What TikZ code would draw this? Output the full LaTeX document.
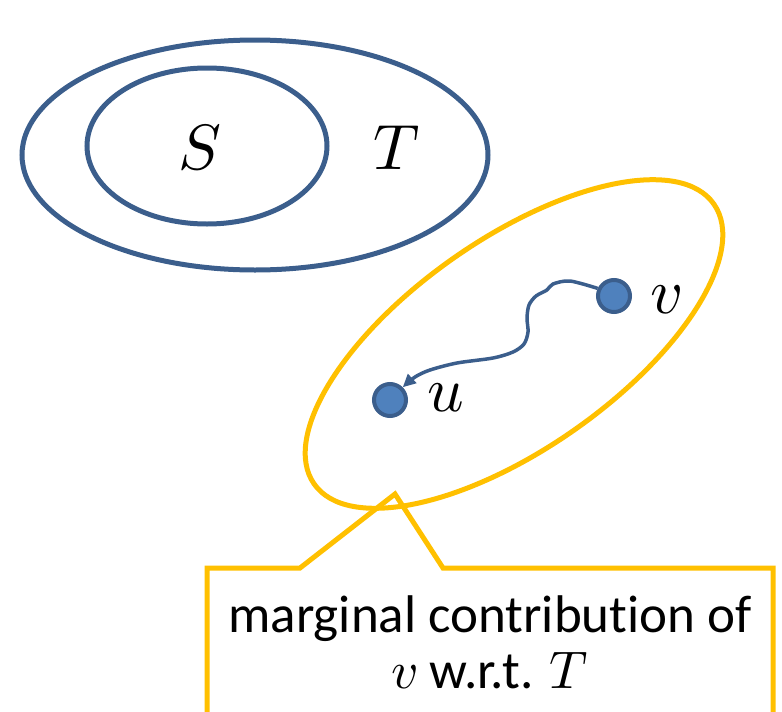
\documentclass[tikz,border=0pt]{standalone}
\usepackage{fontspec}
\usepackage{unicode-math}
\setmainfont{Carlito}[Ligatures={NoCommon}]
\usetikzlibrary{arrows.meta}
\definecolor{dblue}{HTML}{3B5E8C}
\definecolor{nfill}{HTML}{4F81BD}
\definecolor{gold}{HTML}{FFC000}
\begin{document}
\begin{tikzpicture}[x=1pt,y=-1pt,
  setline/.style={draw=dblue,line width=5pt},
  goldline/.style={draw=gold,line width=5pt},
  vertex/.style={circle,minimum size=32pt,inner sep=0pt,fill=nfill,draw=dblue,line width=4pt},
  mlbl/.style={inner sep=0pt,font=\fontsize{64}{70}\selectfont},
  conn/.style={draw=dblue,line width=3.5pt,line join=round,-{Triangle[length=13pt,width=12pt]}},
  calltext/.style={align=center,inner sep=0pt,font=\fontsize{53}{56}\selectfont}]
\useasboundingbox (0,0) rectangle (782,712);
% sets
\draw[setline] (255,155) ellipse [x radius=233, y radius=115];
\draw[setline] (207,146) ellipse [x radius=120, y radius=78];
\node[mlbl] (S) at (200,148) {$S$};
\node[mlbl] (T) at (397,148) {$T$};
% yellow region
\draw[goldline] (514,344) ellipse [x radius=244, y radius=105, rotate=35];
% vertices
\node[vertex] (v) at (614,296) {};
\node[vertex] (u) at (390,400) {};
\node[mlbl] (vl) at (666,300) {$v$};
\node[mlbl] (ul) at (446,398) {$u$};
\draw[conn] plot[smooth,tension=0.5] coordinates {(v.155) (570,281) (553,284) (547,290) (536,296) (529,305) (527,318) (528,332) (524,344) (513,352) (493,358) (457,363) (430,370) (415,377) (u.45)};
% callout
\coordinate (tip) at (395,494);
\draw[goldline] (207,716) -- (207,568) -- (300,568) -- (tip) -- (443,568) -- (773,568) -- (773,716) -- cycle;
\node[calltext] (lab) at (490,642) {marginal contribution of\\$v$ w.r.t. $T$};
\end{tikzpicture}
\end{document}
